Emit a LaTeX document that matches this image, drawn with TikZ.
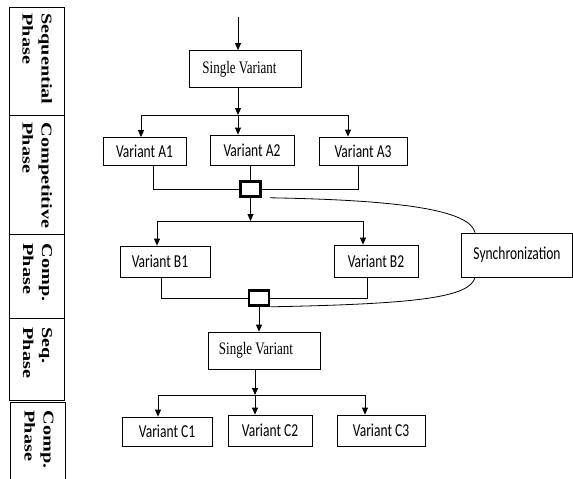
\documentclass[tikz,border=0pt]{standalone}
\usepackage{fontspec}
\setmainfont{Liberation Serif}
\newfontfamily\carlito{Carlito}
\usetikzlibrary{arrows.meta}
\usetikzlibrary{calc}
\newcommand{\tall}[1]{\scalebox{1}[1.35]{#1}}
\newcommand{\wide}[1]{\scalebox{1.35}[1]{#1}}

\begin{document}
\begin{tikzpicture}[x=1pt,y=-1pt,line width=0.8pt,
    box/.style={draw,inner sep=0pt},
    var/.style={box,font=\carlito\fontsize{13.5}{16}\selectfont},
    single/.style={box,minimum width=112pt,minimum height=37pt,font=\fontsize{13}{16}\selectfont},
    junc/.style={draw,line width=2.6pt,minimum width=20pt,minimum height=15pt,inner sep=0pt},
    arr/.style={-{Triangle[length=7pt,width=6pt]}},
    phase/.style={rotate=-90,anchor=north west,inner sep=0pt,align=left,font=\bfseries\fontsize{15}{19}\selectfont}]
    \useasboundingbox (0,0) rectangle (573,479);
    % phases
    \draw (9,7) rectangle (64,115);
    \draw (9,115) rectangle (64,234);
    \draw (9,234) rectangle (64,318);
    \draw (9,318) rectangle (64,400);
    \draw (10,482) |- (65,402) -- (65,482);
    \node[phase] (ph1) at (52.5,13) {\wide{Sequential}\\\wide{Phase}};
    \node[phase] (ph2) at (52.5,122) {\wide{Competitive}\\\wide{Phase}};
    \node[phase] (ph3) at (52.5,243) {\wide{Comp.}\\\wide{Phase}};
    \node[phase] (ph4) at (52.5,327) {\wide{Seq.}\\\wide{Phase}};
    \node[phase] (ph5) at (54,410) {\wide{Comp.}\\\wide{Phase}};
    % boxes
    \node[single] (sv1) at (245.5,69) {\tall{Single Variant}\hspace*{12pt}};
    \node[var,minimum width=83pt,minimum height=28pt] (a1) at (144.5,151.5) {\tall{Variant A1}};
    \node[var,minimum width=84pt,minimum height=30pt] (a2) at (252,150) {\tall{Variant A2}};
    \node[var,minimum width=88pt,minimum height=28pt] (a3) at (363,151) {\tall{Variant A3}};
    \node[junc] (j1) at (250.5,189) {};
    \node[var,minimum width=90pt,minimum height=31pt] (b1) at (165,261.5) {\tall{Variant B1}\hspace*{10pt}};
    \node[var,minimum width=84pt,minimum height=32pt] (b2) at (376,261) {\tall{Variant B2}};
    \node[junc] (j2) at (259,298) {};
    \node[var,minimum width=111pt,minimum height=44pt] (sync) at (517,255) {\tall{Synchronization}};
    \node[single] (sv2) at (264,350.5) {\tall{Single Variant}\hspace*{16pt}};
    \node[var,minimum width=90pt,minimum height=29pt] (c1) at (167,431.5) {\tall{Variant C1}};
    \node[var,minimum width=84pt,minimum height=31pt] (c2) at (270,430.5) {\tall{Variant C2}};
    \node[var,minimum width=88pt,minimum height=31pt] (c3) at (381,430.5) {\tall{Variant C3}};
    % forks
    \coordinate (in) at (238,17);
    \coordinate (fa) at (238,115);
    \coordinate (fal) at (141,115);
    \coordinate (far) at (348,115);
    \coordinate (fb) at (250.5,221);
    \coordinate (fbl) at (157,221);
    \coordinate (fbr) at (363,221);
    \coordinate (fc) at (255,395);
    \coordinate (fcl) at (158,395);
    \coordinate (fcr) at (365,395);
    \draw[arr] (in) -- (in |- sv1.north);
    \draw[arr] (sv1.south -| fa) -- (fa);
    \draw (fal) -- (far);
    \draw[arr] (fal) -- (fal |- a1.north);
    \draw[arr] (fa) -- (fa |- a2.north);
    \draw[arr] (far) -- (far |- a3.north);
    \draw ([xshift=8.5pt]a1.south) |- (j1.west);
    \draw ([xshift=-5pt]a3.south) |- (j1.east);
    \draw (j1.north |- a2.south) -- (j1.north);
    \draw[arr] (j1.south) -- (fb);
    \draw (fbl) -- (fbr);
    \draw[arr] (fbl) -- (fbl |- b1.north);
    \draw[arr] (fbr) -- (fbr |- b2.north);
    \draw ([xshift=-4pt]b1.south) |- (j2.west);
    \draw ([xshift=-9pt]b2.south) |- (j2.east);
    \draw[arr] (j2.south) -- (j2.south |- sv2.north);
    \draw[arr] (sv2.south -| fc) -- (fc);
    \draw (fcl) -- (fcr);
    \draw[arr] (fcl) -- (fcl |- c1.north);
    \draw[arr] (fc) -- (fc |- c2.north);
    \draw[arr] (fcr) -- (fcr |- c3.north);
    % synchronization
    \draw ([xshift=8pt]j1.south east) .. controls (400,200) and (470,210) .. ([xshift=-42pt]sync.north);
    \draw ([xshift=-42pt]sync.south) .. controls (470,297) and (420,304) .. (j2.south east);
\end{tikzpicture}
\end{document}
